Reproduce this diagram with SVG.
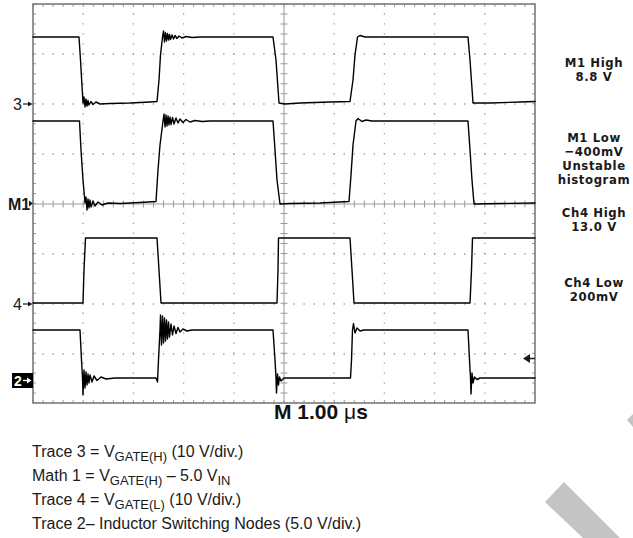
<svg xmlns="http://www.w3.org/2000/svg" width="633" height="538" viewBox="0 0 633 538">
<style>
.grid{stroke:#9a9a9a;fill:none}
.tr{stroke:#000;stroke-width:1.4;fill:none;stroke-linejoin:round;stroke-linecap:round}
.lab{font-family:"DejaVu Sans Condensed","DejaVu Sans",sans-serif;font-stretch:condensed;font-weight:bold;font-size:13px;letter-spacing:0.6px;fill:#1a1a1a;text-anchor:middle}
.leg{font-family:"Liberation Sans",Arial,sans-serif;font-size:16px;fill:#1a1a1a}
.sub{font-size:13px}
.mk{font-family:"Liberation Sans",Arial,sans-serif;font-size:16px;fill:#1a1a1a}
</style>
<rect width="633" height="538" fill="#fff"/>
<g id="watermark" fill="#c4c4c4">
<polygon points="545,502 564,482 620,538 583,538"/>
<polygon points="627,420 633,414 633,427"/>
</g>
<g id="graticule">
<g class="grid" stroke-width="1.3" stroke-dasharray="1.3 8.74">
<line x1="32.35" y1="54" x2="535" y2="54"/>
<line x1="32.35" y1="104" x2="535" y2="104"/>
<line x1="32.35" y1="154" x2="535" y2="154"/>
<line x1="32.35" y1="254" x2="535" y2="254"/>
<line x1="32.35" y1="304" x2="535" y2="304"/>
<line x1="32.35" y1="354" x2="535" y2="354"/>
</g>
<g class="grid" stroke-width="1.3" stroke-dasharray="1.3 8.675">
<line x1="83.2" y1="3.35" x2="83.2" y2="403"/>
<line x1="133.4" y1="3.35" x2="133.4" y2="403"/>
<line x1="183.6" y1="3.35" x2="183.6" y2="403"/>
<line x1="233.8" y1="3.35" x2="233.8" y2="403"/>
<line x1="334.2" y1="3.35" x2="334.2" y2="403"/>
<line x1="384.4" y1="3.35" x2="384.4" y2="403"/>
<line x1="434.6" y1="3.35" x2="434.6" y2="403"/>
<line x1="484.8" y1="3.35" x2="484.8" y2="403"/>
</g>
<line class="grid" x1="284" y1="4" x2="284" y2="403" stroke-width="1"/>
<line class="grid" x1="33" y1="204" x2="535" y2="204" stroke-width="1"/>
<line class="grid" x1="284" y1="3.5" x2="284" y2="403" stroke-width="7" stroke-dasharray="1 8.975"/>
<line class="grid" x1="32.5" y1="204" x2="535" y2="204" stroke-width="7" stroke-dasharray="1 9.04"/>
<line class="grid" x1="32.5" y1="5.5" x2="535" y2="5.5" stroke-width="3" stroke-dasharray="1 9.04"/>
<line class="grid" x1="32.5" y1="401.5" x2="535" y2="401.5" stroke-width="3" stroke-dasharray="1 9.04"/>
<line class="grid" x1="34.5" y1="3.5" x2="34.5" y2="403" stroke-width="3" stroke-dasharray="1 8.975"/>
<line class="grid" x1="533.5" y1="3.5" x2="533.5" y2="403" stroke-width="3" stroke-dasharray="1 8.975"/>
<rect x="33" y="4" width="502" height="399" fill="none" stroke="#7a7a7a" stroke-width="1.6"/>
</g>
<g id="connectors">
<path id="trace3" class="tr" d="M33,37 H79 L80.5,60 L83,103 L84,97 L85,107 L86,99 L87,106 L88,100.5 L89,105 L91,101.5 L93,104.5 L96,102 L100,104 L110,103.5 L130,103 L150,102 L157,101.5 L159,80 L160.5,55 L162.5,37 L163.5,31 L164.5,42 L165.5,32.5 L166.5,41 L167.5,33.5 L168.5,40 L169.5,34.5 L170.5,39.5 L172,35 L173.5,39 L175,35.5 L177,38.5 L179,36 L182,38 L186,36.5 L192,37.5 L200,37 H273 L276,60 L279,103 L285,104 L300,103 L330,102 L350,101.5 L353,80 L355,55 L357.5,37 L360,35.5 L365,37 H468 L470,60 L473,103 L490,103 L520,102 L535,101.5"/>
<path id="math1" class="tr" d="M33,121 H79.5 L81,150 L83,180 L85,203 L86,197 L87,210 L88,199 L89,208 L90,200 L91,207 L93,201 L95,206 L98,202 L102,205 L108,203 L120,203.5 L140,202.5 L156,201.5 L158,170 L160,145 L163,121 L164,114 L165,127 L166,115 L167,126 L168,116 L169,125 L170,117 L171,124.5 L172.5,117.5 L174,124 L176,118 L178,123 L180,119 L183,122.5 L186,119.5 L190,122 L195,120.5 L202,121.5 L210,121 H273 L275,150 L277,180 L280,204 L290,203.5 L320,203 L349,201.5 L351,175 L353,145 L356,121 L358,118.5 L362,121.5 L366,120 L372,121 H468 L470,150 L472,180 L474,204 L500,203.5 L535,203"/>
<path id="trace4" class="tr" d="M33,303 H83 L84,270 L85.5,238 H157 L159,270 L161,303 H277 L278,270 L278.5,238 H350 L352,270 L354,303 H470 L471.5,270 L472.5,238 H535"/>
<path id="trace2" class="tr" d="M33,330 H80 L81.5,360 L82.5,378 L83,395 L84,370 L85,388 L86,372 L87,385 L88,374 L89,383 L90,375 L92,382 L94,376 L97,380.5 L101,377 L106,379 L115,378 L156,378 L157.5,382 L158.5,360 L160,330 L160.5,315 L161.5,345 L162.5,316 L163.5,343 L164.5,318 L165.5,341 L166.5,320 L167.5,339 L168.5,322 L169.5,337 L171,324 L172.5,335 L174,326 L176,333.5 L178,327.5 L180,332 L183,329 L187,331 L192,330 H273 L275,360 L276,378 L276.5,393 L277.5,374 L278.5,385 L279.5,377 L281,381 L284,378 H350.5 L351.5,360 L352.5,330 L353.5,323.5 L355,333 L357,328 L360,331 L364,330 H468 L469.5,360 L470.5,378 L471,394 L472,373 L473,383 L474.5,377 L477,379.5 L480,378 H535"/>
</g>
<g id="marker-3">
<text class="mk" x="13" y="110">3</text>
<path d="M23,104 H29" stroke="#1a1a1a" stroke-width="1.2"/>
<polygon points="28,101.5 32.5,104 28,106.5" fill="#1a1a1a"/>
</g>
<g id="marker-m1">
<text class="mk" x="8" y="210" font-weight="bold">M1</text>
<polygon points="29,200.5 33,203.5 29,206.5" fill="#1a1a1a"/>
</g>
<g id="marker-4">
<text class="mk" x="13" y="310">4</text>
<path d="M23,304 H29" stroke="#1a1a1a" stroke-width="1.2"/>
<polygon points="28,301.5 32.5,304 28,306.5" fill="#1a1a1a"/>
</g>
<g id="marker-2">
<rect x="12" y="373" width="21" height="15" fill="#000"/>
<text x="14" y="386" font-family="Liberation Sans, Arial, sans-serif" font-size="14" font-weight="bold" fill="#fff">2</text>
<path d="M23,380.5 H28" stroke="#fff" stroke-width="1.4"/>
<polygon points="27,377.5 31.5,380.5 27,383.5" fill="#fff"/>
</g>
<g id="trigger-marker">
<polygon points="523,358.5 530,354 530,363" fill="#1a1a1a"/>
<path d="M529,358.5 H535" stroke="#1a1a1a" stroke-width="1.5"/>
</g>
<g id="timebase">
<text x="274" y="419" font-family="Liberation Sans, Arial, sans-serif" font-size="21" font-weight="bold" fill="#111">M 1.00 <tspan font-weight="normal">μ</tspan>s</text>
</g>
<g id="readouts">
<text id="m1-high" class="lab" x="594" y="67">M1 High<tspan x="594" dy="14">8.8 V</tspan></text>
<text id="m1-low" class="lab" x="594" y="142">M1 Low<tspan x="594" dy="14">−400mV</tspan><tspan x="594" dy="14">Unstable</tspan><tspan x="594" dy="14">histogram</tspan></text>
<text id="ch4-high" class="lab" x="594" y="217">Ch4 High<tspan x="594" dy="14">13.0 V</tspan></text>
<text id="ch4-low" class="lab" x="594" y="287">Ch4 Low<tspan x="594" dy="14">200mV</tspan></text>
</g>
<g id="legend">
<text class="leg" x="32" y="457">Trace 3 = V<tspan class="sub" dy="4">GATE(H)</tspan><tspan dy="-4"> (10 V/div.)</tspan></text>
<text class="leg" x="32" y="481">Math 1 = V<tspan class="sub" dy="4">GATE(H)</tspan><tspan dy="-4"> – 5.0 V</tspan><tspan class="sub" dy="4">IN</tspan></text>
<text class="leg" x="32" y="505">Trace 4 = V<tspan class="sub" dy="4">GATE(L)</tspan><tspan dy="-4"> (10 V/div.)</tspan></text>
<text class="leg" x="32" y="529">Trace 2– Inductor Switching Nodes (5.0 V/div.)</text>
</g>
</svg>
